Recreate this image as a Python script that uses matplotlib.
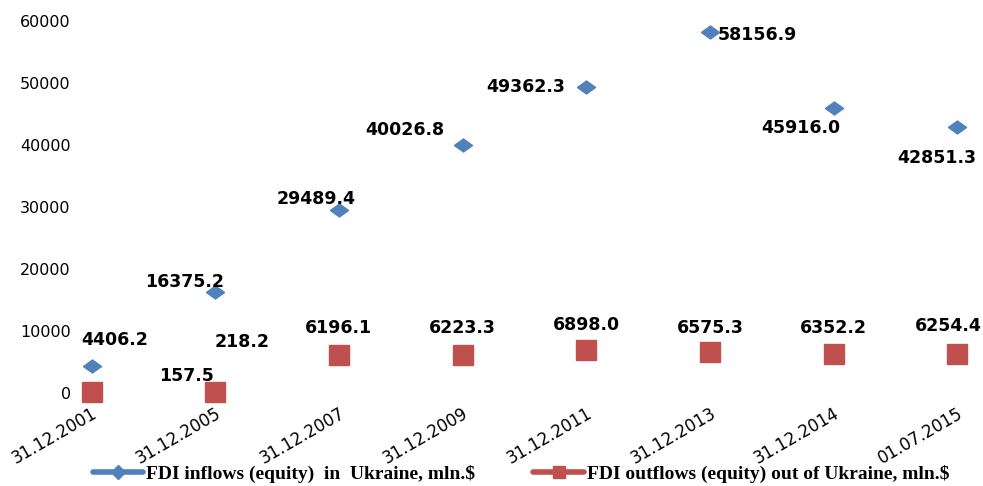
import matplotlib
matplotlib.use("Agg")
import matplotlib.pyplot as plt
from matplotlib.lines import Line2D

plt.rcParams["font.family"] = ["DejaVu Sans"]

dates = ["31.12.2001", "31.12.2005", "31.12.2007", "31.12.2009",
         "31.12.2011", "31.12.2013", "31.12.2014", "01.07.2015"]
inflows = [4406.2, 16375.2, 29489.4, 40026.8, 49362.3, 58156.9, 45916.0, 42851.3]
outflows = [157.5, 218.2, 6196.1, 6223.3, 6898.0, 6575.3, 6352.2, 6254.4]
yticks = [0, 10000, 20000, 30000, 40000, 50000, 60000]

# label offsets in pixels (style, not data)
in_off = [(23, 26), (-31, 10), (-23, 11), (-58, 15), (-61, 0), (47, -3), (-33, -20), (-20, -31)]
out_off = [(95, 16), (27, 50), (0, 27), (0, 27), (0, 25), (0, 24), (0, 26), (-9, 28)]

BLUE = "#4F81BD"
RED = "#C0504D"

fig = plt.figure(figsize=(9.83, 4.86), dpi=100)
ax = fig.add_axes([0.086, 0.191, 0.906, 0.766])

x = list(range(len(dates)))
diamond = [(-1, 0), (0, 0.72), (1, 0), (0, -0.72), (-1, 0)]
ax.plot(x, inflows, linestyle="none", marker=diamond, ms=13, color=BLUE,
        mec=BLUE, clip_on=False, zorder=3)
ax.plot(x, outflows, linestyle="none", marker="s", ms=14, color=RED,
        mec=RED, clip_on=False, zorder=4)

for xi, v, off in zip(x, inflows, in_off):
    ax.annotate(f"{v:.1f}", (xi, v), xytext=off, textcoords="offset pixels",
                ha="center", va="center", fontsize=12.5, fontweight="bold",
                color="black", zorder=5)
for xi, v, off in zip(x, outflows, out_off):
    ax.annotate(f"{v:.1f}", (xi, v), xytext=off, textcoords="offset pixels",
                ha="center", va="center", fontsize=12.5, fontweight="bold",
                color="black", zorder=5)

ax.set_xlim(-0.057, 7.145)
ax.set_ylim(0, 60000)
ax.set_yticks(yticks)
ax.set_yticklabels([str(t) for t in yticks], fontsize=11.5)
ax.set_xticks(x)
ax.set_xticklabels(dates, rotation=30, ha="right", rotation_mode="anchor", fontsize=12)
ax.tick_params(axis="both", length=0)
ax.tick_params(axis="y", pad=10)
ax.tick_params(axis="x", pad=8)
for s in ax.spines.values():
    s.set_visible(False)

handles = [
    Line2D([0], [0], color=BLUE, lw=4, marker="D", ms=7, mfc=BLUE, mec=BLUE,
           solid_capstyle="round"),
    Line2D([0], [0], color=RED, lw=4, marker="s", ms=9, mfc=RED, mec=RED,
           solid_capstyle="round"),
]
labels = ["FDI inflows (equity)  in  Ukraine, mln.$",
          "FDI outflows (equity) out of Ukraine, mln.$"]
fig.legend(handles, labels, loc="center", bbox_to_anchor=(0.53, 0.025),
           ncol=2, frameon=False, handlelength=2.6, columnspacing=3.0,
           handletextpad=0.15,
           prop={"family": "Liberation Serif", "weight": "bold", "size": 14})

fig.savefig("out.png", dpi=100)
